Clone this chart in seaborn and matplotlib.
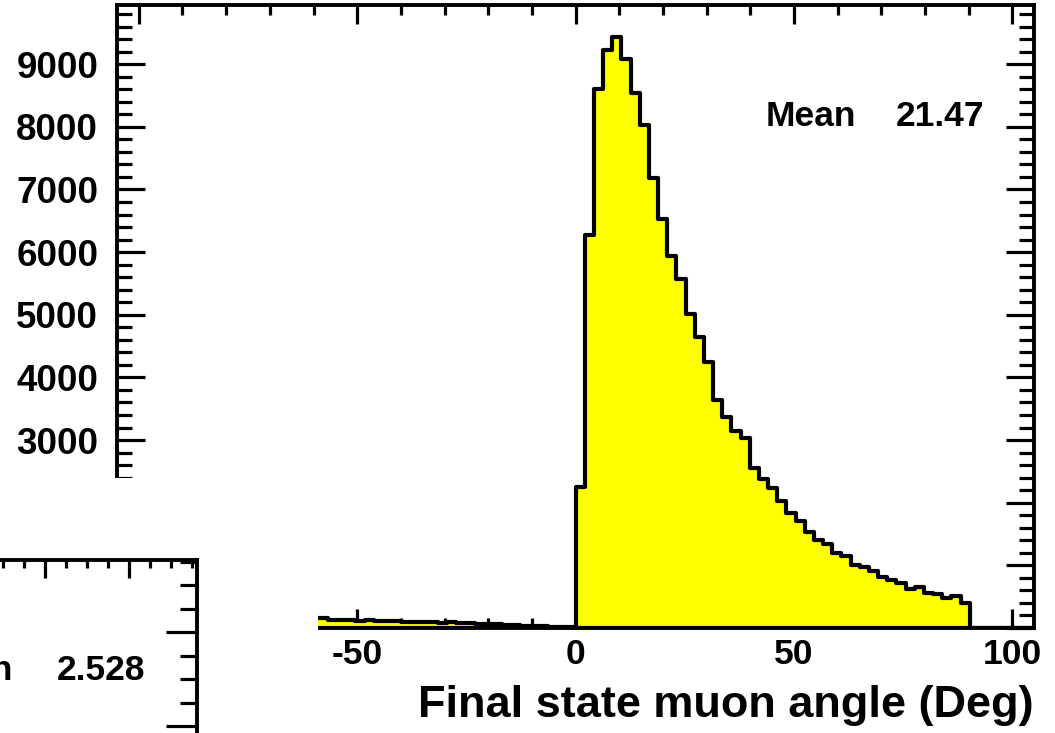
import numpy as np
import pandas as pd
import matplotlib
matplotlib.use("Agg")
import matplotlib.pyplot as plt
import seaborn as sns
from matplotlib.patches import Rectangle
from matplotlib.ticker import MultipleLocator

# ---------------- data ----------------
x_min, x_max, n_bins = -105.0, 105.0, 100
# counts per 2.1-degree bin, from -105 to +105
neg_counts = [225, 220, 218, 215, 210, 208, 205, 200, 198, 195, 192, 188, 185, 182,
              180, 178, 175, 172, 170, 168, 165, 162,
              160, 135, 120, 130, 105, 125, 115, 105, 110, 90, 88, 95, 92, 85, 88,
              80, 82, 70, 68, 60, 45, 40, 35, 30, 25, 20, 15, 10]
pos_counts = [2252, 6276, 8608, 9231, 9438, 9087, 8544, 8033, 7187, 6532, 5941,
              5574, 5015, 4647, 4248, 3641, 3370, 3146, 3034, 2555, 2380, 2236,
              2028, 1837, 1709, 1533, 1405, 1341, 1198, 1150, 1006, 974, 910, 814,
              767, 719, 623, 655, 559, 543, 479, 511, 399]
tail_counts = [0, 0, 0, 0, 0, 0, 0]
angle_counts = neg_counts + pos_counts + tail_counts
y_max = 9945
x_ticks = [-100, -50, 0, 50, 100]
y_ticks = [0, 1000, 2000, 3000, 4000, 5000, 6000, 7000, 8000, 9000]
x_label = "Final state muon angle (Deg)"
main_stat = ("Mean", "21.47")
inset_stat = ("Mean", "2.528")

# ---------------- style ----------------
sns.set_style("ticks")
plt.rcParams["font.family"] = ["Liberation Sans", "DejaVu Sans"]
plt.rcParams["font.weight"] = "bold"
plt.rcParams["axes.labelweight"] = "bold"
plt.rcParams["text.color"] = "black"
plt.rcParams["axes.labelcolor"] = "black"
plt.rcParams["xtick.color"] = "black"
plt.rcParams["ytick.color"] = "black"

edges = np.linspace(x_min, x_max, n_bins + 1)
centers = (edges[:-1] + edges[1:]) / 2
df = pd.DataFrame({"angle": centers, "count": angle_counts})

W, H = 1055, 733
fig = plt.figure(figsize=(W / 100, H / 100), dpi=100)


def fx(px):
    return px / W


def fy(py):
    return 1 - py / H


ax = fig.add_axes([fx(117), fy(628), fx(1034) - fx(117), fy(5) - fy(628)])
sns.histplot(data=df, x="angle", weights="count", bins=n_bins,
             binrange=(x_min, x_max), element="step",
             fill=True, color="#ffff00", alpha=1, edgecolor="black",
             linewidth=3.0, ax=ax)
ax.set_xlim(x_min, x_max)
ax.set_ylim(0, y_max)
ax.set_xticks(x_ticks)
ax.set_xticklabels([str(t) for t in x_ticks])
ax.set_yticks(y_ticks)
ax.set_yticklabels([str(t) for t in y_ticks])
ax.xaxis.set_minor_locator(MultipleLocator(10))
ax.yaxis.set_minor_locator(MultipleLocator(200))
ax.set_ylabel("")
ax.set_xlabel(x_label, loc="right", fontsize=32.5, fontweight="bold",
              labelpad=10, color="black")
ax.tick_params(axis="both", which="both", direction="in", top=True, right=True,
               width=2.3, color="black", labelcolor="black")
ax.tick_params(axis="x", which="major", length=13.5, pad=7, labelsize=25.5)
ax.tick_params(axis="x", which="minor", length=7.5)
ax.tick_params(axis="y", which="major", length=20.5, pad=13.5, labelsize=26.5)
ax.tick_params(axis="y", which="minor", length=11)
for s in ax.spines.values():
    s.set_linewidth(2.8)
    s.set_color("black")

# white pad covering the lower-left corner
fig.add_artist(Rectangle((0, 0), fx(318), fy(478), transform=fig.transFigure,
                         facecolor="white", edgecolor="none", zorder=5))

# partially visible inset pad frame
ax_in = fig.add_axes([-0.5, -0.5, fx(197) + 0.5, fy(560) + 0.5], zorder=6)
ax_in.set_facecolor("none")
ax_in.set_xlim(-4.815, 3.81)
ax_in.set_ylim(-2.973, 2.766)
ax_in.xaxis.set_major_locator(MultipleLocator(1))
ax_in.xaxis.set_minor_locator(MultipleLocator(0.25))
ax_in.yaxis.set_major_locator(MultipleLocator(1))
ax_in.yaxis.set_minor_locator(MultipleLocator(0.25))
ax_in.tick_params(axis="x", which="both", direction="in", bottom=False, top=True,
                  labelbottom=False, labeltop=False, width=2.3, color="black")
ax_in.tick_params(axis="y", which="both", direction="in", left=False, right=True,
                  labelleft=False, labelright=False, width=2.3, color="black")
ax_in.tick_params(axis="x", which="major", length=13)
ax_in.tick_params(axis="x", which="minor", length=6)
ax_in.tick_params(axis="y", which="major", length=22)
ax_in.tick_params(axis="y", which="minor", length=12)
for s in ax_in.spines.values():
    s.set_linewidth(2.8)
    s.set_color("black")

# statistics texts
fs_stat = 25.5
fig.text(fx(766), fy(116), main_stat[0], ha="left", va="center", fontsize=fs_stat,
         fontweight="bold", color="black", zorder=8)
fig.text(fx(984), fy(116), main_stat[1], ha="right", va="center", fontsize=fs_stat,
         fontweight="bold", color="black", zorder=8)
fig.text(fx(13), fy(670), inset_stat[0], ha="right", va="center", fontsize=fs_stat,
         fontweight="bold", color="black", zorder=8)
fig.text(fx(145), fy(670), inset_stat[1], ha="right", va="center", fontsize=fs_stat,
         fontweight="bold", color="black", zorder=8)

fig.savefig("out.png", dpi=100)
